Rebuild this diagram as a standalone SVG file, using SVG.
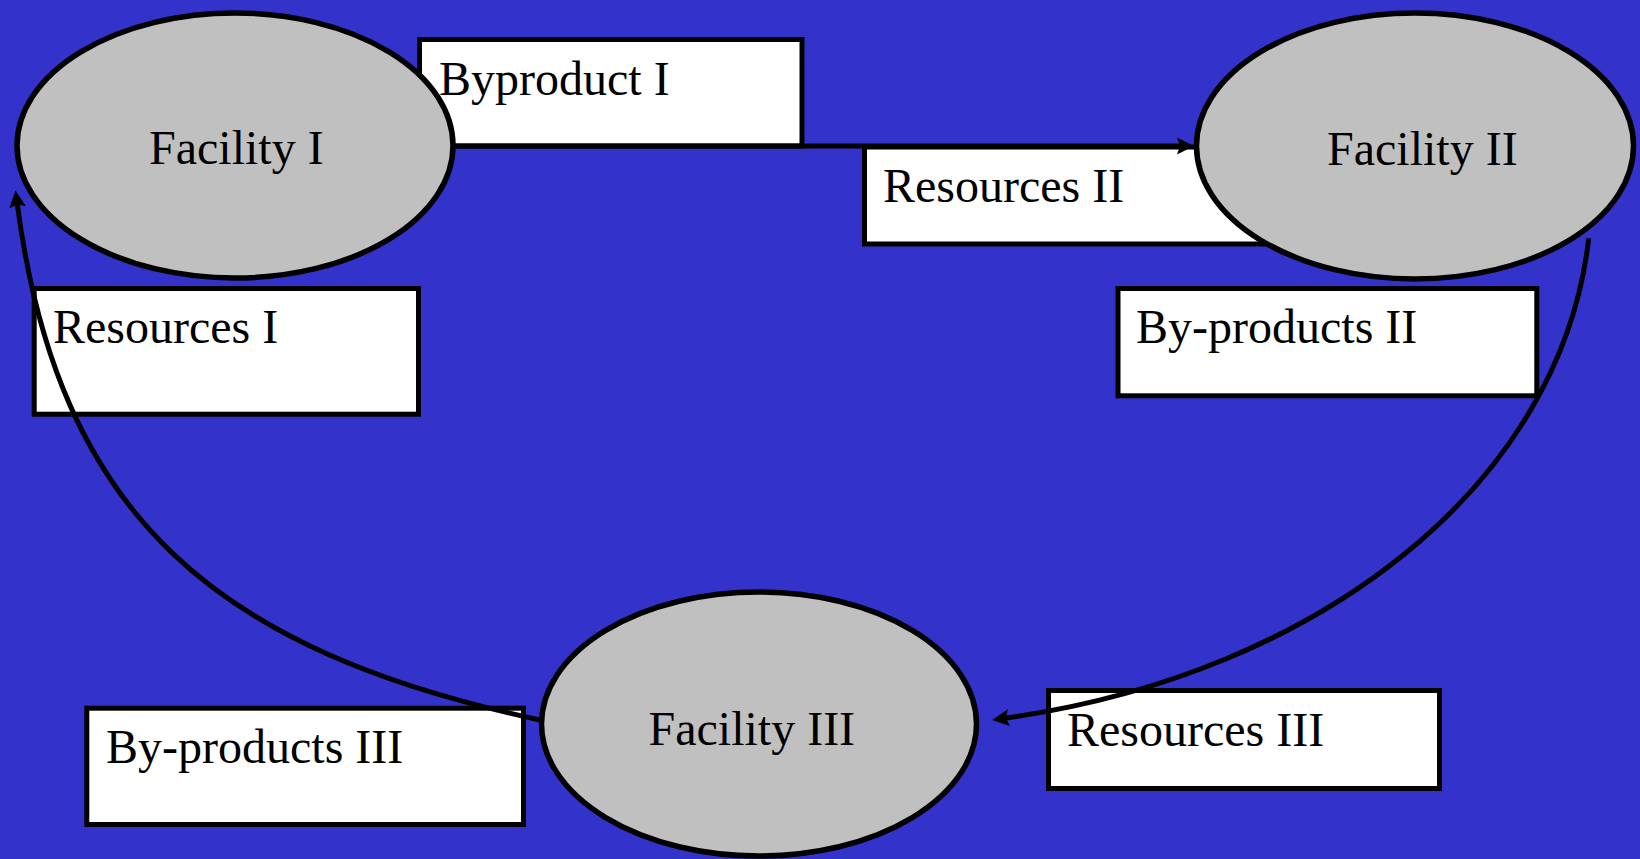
<svg xmlns="http://www.w3.org/2000/svg" width="1640" height="859" viewBox="0 0 1640 859">
<defs>
<style>
.box{fill:#ffffff;stroke:#000;stroke-width:5}
.fac{fill:#c0c0c0;stroke:#000;stroke-width:5.5}
.lbl{font-family:"Liberation Serif","Times New Roman",serif;font-size:48px;fill:#000}
.con{fill:none;stroke:#000;stroke-width:5}
</style>
<marker id="arr" markerUnits="userSpaceOnUse" markerWidth="18" markerHeight="18" viewBox="0 0 18 18" refX="7" refY="9" orient="auto">
<path d="M0,0.5 L17,9 L0,17.5 L3,9 z" fill="#000"/>
</marker>
</defs>
<rect x="0" y="0" width="1640" height="859" fill="#3333cc"/>

<g id="byproduct-1">
<rect class="box" x="419.5" y="39.5" width="382.5" height="106.5"/>
<text class="lbl" x="439" y="95">Byproduct I</text>
</g>
<g id="resources-2">
<rect class="box" x="864.5" y="147" width="435.5" height="97"/>
<text class="lbl" x="883" y="202">Resources II</text>
</g>
<g id="byproducts-2">
<rect class="box" x="1118" y="288.5" width="418.8" height="107.3"/>
<text class="lbl" x="1136" y="343">By-products II</text>
</g>
<g id="resources-1">
<rect class="box" x="34.2" y="288.5" width="384.3" height="125.7"/>
<text class="lbl" x="53" y="343">Resources I</text>
</g>
<g id="byproducts-3">
<rect class="box" x="86.8" y="708.2" width="436.7" height="116.3"/>
<text class="lbl" x="106" y="763">By-products III</text>
</g>
<g id="resources-3">
<rect class="box" x="1048.5" y="690.5" width="391" height="98"/>
<text class="lbl" x="1067" y="746">Resources III</text>
</g>

<g id="facility-1">
<ellipse class="fac" cx="235" cy="145.5" rx="218" ry="132.5"/>
<text class="lbl" x="149" y="164">Facility I</text>
</g>
<g id="facility-2">
<ellipse class="fac" cx="1415" cy="146" rx="218.5" ry="133"/>
<text class="lbl" x="1327" y="165">Facility II</text>
</g>
<g id="facility-3">
<ellipse class="fac" cx="759" cy="724" rx="217.5" ry="132"/>
<text class="lbl" x="648.5" y="745">Facility III</text>
</g>

<g id="connectors">
<path class="con" d="M455,146 H1184" marker-end="url(#arr)"/>
<path class="con" d="M1588.7,238.3 C1561.7,481.8 1322.7,674.6 1002,718.6" marker-end="url(#arr)"/>
<path class="con" d="M540,720 C217.3,650.7 57.4,518 16.8,200.5" marker-end="url(#arr)"/>
</g>
</svg>
